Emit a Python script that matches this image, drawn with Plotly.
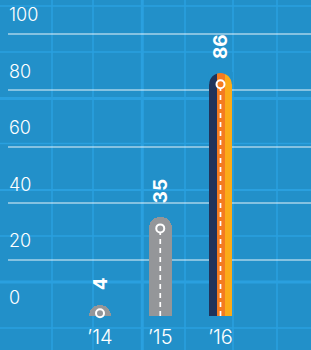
import plotly.graph_objects as go

# ---------------- data ----------------
categories = ["\u201914", "\u201915", "\u201916"]
values = [4, 35, 86]
value_labels = ["4", "35", "86"]
y_tick_values = [0, 20, 40, 60, 80, 100]
y_tick_labels = ["0", "20", "40", "60", "80", "100"]

# ---------------- style ----------------
W, H = 311, 350
M_L, M_R, M_T, M_B = 8, 0, 0, 34
PW, PH = W - M_L - M_R, H - M_T - M_B
PX_PER_Y = 2.825                 # pixels per y unit
PX_PER_X = 60.25                 # pixels per category step
FIRST_CAT_PX = 100               # pixel x of first category
Y_MAX = PH / PX_PER_Y
X_MIN = -(FIRST_CAT_PX - M_L) / PX_PER_X
X_MAX = (W - FIRST_CAT_PX) / PX_PER_X

BG = "#2290c9"
GRID_BG = "#2aa0df"
GRAY = "#949699"
NAVY = "#1f335a"
ORANGE = "#f47b20"
AMBER = "#fbab18"
FONT = "Inter"

BAR_PX = 22.5
R = BAR_PX / 2
bar_w = BAR_PX / PX_PER_X
# stripes of the highlighted bar (pixel offsets from bar centre)
stripe_px = [(-R, -3.5, NAVY), (-3.5, 4.75, ORANGE), (4.75, R, AMBER)]

fig = go.Figure()

# grey bars
fig.add_trace(go.Bar(
    x=categories[:2], y=values[:2], width=bar_w,
    marker=dict(color=GRAY, cornerradius="50%", line=dict(width=0)),
    hoverinfo="skip", showlegend=False))

# striped bar
for a, b, c in stripe_px:
    fig.add_trace(go.Bar(
        x=[categories[2]], y=[values[2]],
        offset=a / PX_PER_X, width=(b - a) / PX_PER_X,
        marker=dict(color=c, line=dict(width=0)),
        hoverinfo="skip", showlegend=False))

# dashed lines + ring markers
cap_units = R / PX_PER_Y
marker_y = [max(v - cap_units, 1.0) for v in values]
ring_fill = [GRAY, GRAY, ORANGE]
for cat, my, fc in zip(categories, marker_y, ring_fill):
    fig.add_trace(go.Scatter(
        x=[cat, cat], y=[0, my], mode="lines",
        line=dict(color="white", width=1.7, dash="5px,4px"),
        hoverinfo="skip", showlegend=False, cliponaxis=False))
    fig.add_trace(go.Scatter(
        x=[cat], y=[my], mode="markers",
        marker=dict(size=8, color=fc, line=dict(color="white", width=2)),
        hoverinfo="skip", showlegend=False, cliponaxis=False))

shapes = []
# blueprint background grid (pixel positions, decoration only)
bg_vertical = [(52, 1.5), (93, 1.5), (142.3, 3), (185, 1.5), (233, 1.5), (277, 1.5)]
bg_horizontal = [(6, 1.5), (52, 1.5), (98.5, 3), (143.5, 1.5), (190, 2.2), (236, 1.5), (282, 3), (328, 1.5)]
for px, lw in bg_vertical:
    xp = (px - M_L) / PW
    shapes.append(dict(type="line", xref="paper", yref="paper", x0=xp, x1=xp,
                       y0=-0.2, y1=1.2, line=dict(color=GRID_BG, width=lw), layer="below"))
for py, lw in bg_horizontal:
    yp = (M_T + PH - py) / PH
    shapes.append(dict(type="line", xref="paper", yref="paper", x0=-0.1, x1=1.1,
                       y0=yp, y1=yp, line=dict(color=GRID_BG, width=lw), layer="below"))

# round cap of the striped bar: mask the two top corners with background colour
k = 0.5523
left = (f"M {-R-1},1 L {-R-1},{-R} L {-R},{-R} C {-R},{-R + k*R} {-k*R},0 0,0 L 0,1 Z")
right = (f"M {R+1},1 L {R+1},{-R} L {R},{-R} C {R},{-R + k*R} {k*R},0 0,0 L 0,1 Z")
for p in (left, right):
    shapes.append(dict(type="path", xref="x", yref="y", xsizemode="pixel", ysizemode="pixel",
                       xanchor=2, yanchor=values[2], path=p,
                       fillcolor=BG, line=dict(width=0), layer="above"))

annotations = []
for cat, v, t in zip(categories, values, value_labels):
    annotations.append(dict(x=cat, y=v, xref="x", yref="y", text=t, showarrow=False,
                            textangle=-90, yanchor="bottom", xanchor="center", yshift=12,
                            font=dict(family=FONT, size=19, color="white", weight=700)))
for v, t in zip(y_tick_values, y_tick_labels):
    annotations.append(dict(x=0, y=v, xref="paper", yref="y", text=t, showarrow=False,
                            xanchor="left", yanchor="middle", xshift=-1, yshift=19,
                            font=dict(family=FONT, size=18, color="white", weight=300)))

fig.update_layout(
    width=W, height=H,
    margin=dict(l=M_L, r=M_R, t=M_T, b=M_B, pad=0),
    paper_bgcolor=BG, plot_bgcolor="rgba(0,0,0,0)",
    barmode="overlay", bargap=0,
    shapes=shapes, annotations=annotations,
    xaxis=dict(type="category", categoryorder="array", categoryarray=categories,
               range=[X_MIN, X_MAX], showgrid=False, zeroline=False, showline=False,
               ticks="", ticklabelstandoff=7,
               tickfont=dict(family=FONT, size=20, color="white", weight=300),
               fixedrange=True),
    yaxis=dict(range=[0, Y_MAX], tickvals=y_tick_values, showticklabels=False,
               showgrid=True, gridcolor="rgba(255,255,255,0.45)", gridwidth=1.5,
               zeroline=False, showline=False, ticks="", fixedrange=True),
    showlegend=False,
)

fig.write_html("out.html", config={"displayModeBar": False},
               post_script="document.body.style.margin='0';document.body.style.background='#2290c9';")
